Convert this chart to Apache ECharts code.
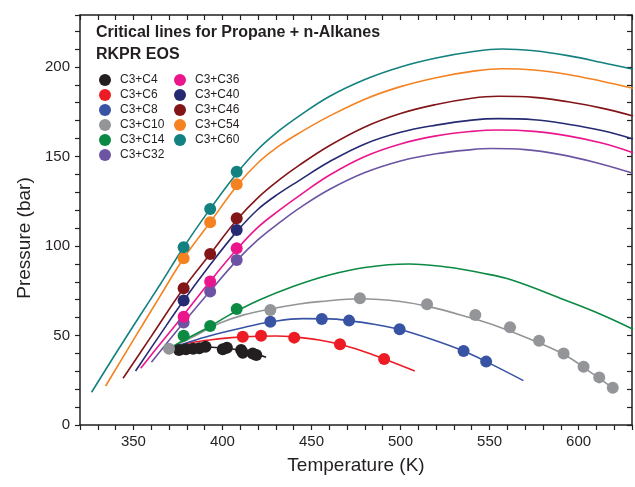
<!DOCTYPE html>
<html>
<head>
<meta charset="utf-8">
<script src="https://cdn.jsdelivr.net/npm/echarts@6/dist/echarts.min.js"></script>
<style>
  html, body { margin: 0; padding: 0; background: #fff; }
  #chart { width: 635px; height: 487px; }
</style>
</head>
<body>
<div id="chart"></div>
<script>
// system names and colours (legend order)
const systems = ['C3+C4', 'C3+C6', 'C3+C8', 'C3+C10', 'C3+C14', 'C3+C32',
  'C3+C36', 'C3+C40', 'C3+C46', 'C3+C54', 'C3+C60'];
const colors = ['#231f20', '#ed1c24', '#3953a4', '#939598', '#0a8a43', '#6c54a3',
  '#ec168c', '#262a73', '#821518', '#f58220', '#13817f'];

// experimental points [T (K), P (bar)]
const c4Points = [[375.6, 41.9], [379.5, 42.3], [383.5, 42.6], [387, 42.9], [390.5, 43.7],
  [400.2, 42.3], [402.5, 43.2], [410.5, 41.9], [411.4, 40.4], [417, 40], [419, 39.1]];
const c6Points = [[411.4, 49.3], [421.7, 49.9], [440.3, 48.8], [466, 45.1], [490.8, 36.9]];
const c8Points = [[426.9, 57.7], [455.8, 59.2], [471.1, 58.3], [499.5, 53.5], [535.4, 41.3], [548.1, 35.4]];
const c10Points = [[370, 42.6], [426.9, 64.2], [477.2, 70.8], [514.9, 67.4], [542, 61.5], [561.5, 54.6],
  [577.8, 47.1], [591.6, 40], [602.8, 32.6], [611.6, 26.6], [619.2, 20.8]];
const c14Points = [[378.2, 49.9], [393.1, 55.3], [408, 64.8]];
const c32Points = [[378.2, 57.2], [393.1, 74.5], [408, 92.2]];
const c36Points = [[378.2, 60.5], [393.1, 80.1], [408, 98.7]];
const c40Points = [[378.2, 69.5], [408, 108.9]];
const c46Points = [[378.2, 76.4], [393.1, 95.5], [408, 115.5]];
const c54Points = [[378.2, 93.1], [393.1, 113.2], [408, 134.5]];
const c60Points = [[378.2, 99.3], [393.1, 120.7], [408, 141.5]];

// RKPR critical lines [T (K), P (bar)]
const c4Line = [[369.8, 42.5], [380, 43.3], [390, 43.6], [400, 43], [410, 41.8], [418, 40], [424.5, 37.8]];
const c6Line = [[369.8, 42.5], [380, 45.5], [392.7, 47.5], [405, 48.8], [420, 49.6], [430, 49.7],
  [440, 49.2], [454.3, 47.5], [466, 45.1], [478, 41.5], [490.8, 36.9], [508, 30.2]];
const c8Line = [[369.8, 42.5], [385, 47.5], [398.3, 51.2], [412, 54.5], [426.9, 57.5], [445, 59.4],
  [460, 59.3], [471, 58.3], [485, 56.3], [499.5, 53.3], [517, 48], [535.4, 41.3], [548.1, 35.4], [569, 24.8]];
const c10Line = [[369.8, 42.5], [385, 50], [398.3, 56.8], [412, 61.5], [426.9, 64.8], [443.1, 67.6],
  [454.3, 68.9], [477, 70.5], [500, 69], [517.7, 65.7], [537, 60.5], [555, 54.9], [575, 47],
  [592.3, 39.1], [606, 30], [619.5, 20.5]];
const c14Line = [[369.8, 42.5], [378, 47.2], [392.7, 54.9], [404, 61.5], [420.7, 69.8], [440, 77.5],
  [460, 83.8], [480, 88], [504.7, 89.9], [527, 88.1], [545, 85], [562.5, 81], [592.3, 69.8],
  [612, 62], [630.6, 53.5]];
const c32Line = [[360.1, 35], [378.2, 57.2], [393.1, 74.8], [408, 91.8], [420, 103.5], [432, 113],
  [443, 121], [460, 131.5], [480, 141], [500, 147.5], [520, 151.5], [540, 153.8], [551, 154.4],
  [570, 153.8], [590, 151], [610, 146.5], [630.6, 140.6]];
const c36Line = [[354.1, 31.7], [366, 46.5], [378.2, 61.5], [393.1, 80.3], [408, 98], [420, 110.5],
  [432, 120], [443, 128], [460, 139.5], [480, 150], [500, 157], [520, 161.5], [540, 164], [555, 164.8],
  [575, 164], [594, 161.5], [613, 157.5], [630.6, 152.1]];
const c40Line = [[351.2, 30.2], [365, 50.5], [378.2, 69.5], [393.1, 89.5], [408, 108], [420, 120.5],
  [432, 129.5], [443, 136.5], [460, 147], [480, 157], [500, 163.5], [520, 167.5], [540, 170.3],
  [555, 171.1], [575, 170.5], [594, 168], [613, 164.5], [630.6, 159.8]];
const c46Line = [[344.2, 26.1], [360, 49.5], [378.2, 76.4], [393.1, 95.5], [408, 114.5], [420, 127],
  [432, 137], [443, 145], [460, 156], [480, 166.5], [500, 174], [520, 179], [540, 182.5],
  [555, 183.6], [575, 183], [594, 180.5], [613, 177], [630.6, 172.6]];
const c54Line = [[334.4, 21.8], [350, 47.5], [365, 72], [378.2, 93.1], [393.1, 113.2], [408, 133.5],
  [420, 146.5], [432, 156], [443, 163], [460, 172.5], [480, 182], [500, 189], [520, 194],
  [540, 197.5], [557, 199], [575, 198.3], [594, 195.8], [613, 192], [630.6, 188.1]];
const c60Line = [[326.5, 18.3], [340, 39.8], [352, 58.5], [365, 78.5], [378.2, 99.3], [393.1, 120.7],
  [408, 140.5], [420, 154], [432, 164.5], [443, 172.5], [460, 183.5], [480, 193], [500, 200],
  [520, 205], [540, 208.5], [557, 210], [575, 209], [594, 206.3], [613, 202.5], [630.6, 198.7]];

const pointSets = [c4Points, c6Points, c8Points, c10Points, c14Points, c32Points,
  c36Points, c40Points, c46Points, c54Points, c60Points];
const lineSets = [c4Line, c6Line, c8Line, c10Line, c14Line, c32Line,
  c36Line, c40Line, c46Line, c54Line, c60Line];

const ink = '#231f20';
const font = "'Liberation Sans', Arial, Helvetica, sans-serif";

const lineSeries = systems.map((name, i) => ({
  name,
  type: 'line',
  data: lineSets[i],
  smooth: 0.4,
  showSymbol: false,
  silent: true,
  z: 2,
  lineStyle: { color: colors[i], width: 1.6 },
  itemStyle: { color: colors[i] }
}));

const pointSeries = systems.map((name, i) => ({
  name,
  type: 'scatter',
  data: pointSets[i],
  symbol: 'circle',
  symbolSize: 12,
  z: 3,
  itemStyle: { color: colors[i], opacity: 1 }
}));

const frameLine = { show: true, onZero: false, lineStyle: { color: ink, width: 1.5 } };
const legendBase = {
  orient: 'vertical',
  top: 69,
  itemWidth: 22,
  itemHeight: 12,
  itemGap: 3,
  icon: 'circle',
  textStyle: { fontSize: 12, color: ink, fontFamily: font, padding: [0, 0, 0, -1] }
};

const chart = echarts.init(document.getElementById('chart'));
chart.setOption({
  animation: false,
  backgroundColor: '#fff',
  textStyle: { fontFamily: font },
  title: {
    text: 'Critical lines for Propane + n-Alkanes\nRKPR EOS',
    left: 96,
    top: 22,
    padding: 0,
    textStyle: { fontSize: 16, fontWeight: 'bold', color: ink, lineHeight: 22, fontFamily: font }
  },
  legend: [
    Object.assign({}, legendBase, { left: 94, data: systems.slice(0, 6) }),
    Object.assign({}, legendBase, { left: 169, data: systems.slice(6) })
  ],
  grid: { left: 80, right: 1, top: 15, bottom: 62 },
  xAxis: [{
    type: 'value',
    min: 320,
    max: 630,
    interval: 10,
    position: 'bottom',
    name: 'Temperature (K)',
    nameLocation: 'middle',
    nameGap: 31,
    nameTextStyle: { fontSize: 19, color: ink, fontFamily: font },
    axisLine: frameLine,
    axisTick: { show: true, length: 5, lineStyle: { color: ink, width: 1.2 } },
    axisLabel: { formatter: v => (v % 50 === 0 ? String(v) : ''), fontSize: 15, color: ink, margin: 9 },
    splitLine: { show: false }
  }, {
    type: 'value',
    min: 320,
    max: 630,
    interval: 10,
    position: 'top',
    axisLine: frameLine,
    axisTick: { show: true, inside: true, length: 5, lineStyle: { color: ink, width: 1.2 } },
    axisLabel: { show: false },
    splitLine: { show: false }
  }],
  yAxis: [{
    type: 'value',
    min: 0,
    max: 229,
    interval: 10,
    position: 'left',
    name: 'Pressure (bar)',
    nameLocation: 'middle',
    nameGap: 46,
    nameTextStyle: { fontSize: 19, color: ink, fontFamily: font, padding: [0, 36, 0, 0] },
    axisLine: frameLine,
    axisTick: { show: true, length: 5, lineStyle: { color: ink, width: 1.2 } },
    axisLabel: { formatter: v => (v % 50 === 0 ? String(v) : ''), fontSize: 15, color: ink, margin: 10 },
    splitLine: { show: false }
  }, {
    type: 'value',
    min: 0,
    max: 229,
    interval: 10,
    position: 'right',
    axisLine: frameLine,
    axisTick: { show: true, inside: true, length: 5, lineStyle: { color: ink, width: 1.2 } },
    axisLabel: { show: false },
    splitLine: { show: false }
  }],
  series: pointSeries.concat(lineSeries)
});
</script>
</body>
</html>
